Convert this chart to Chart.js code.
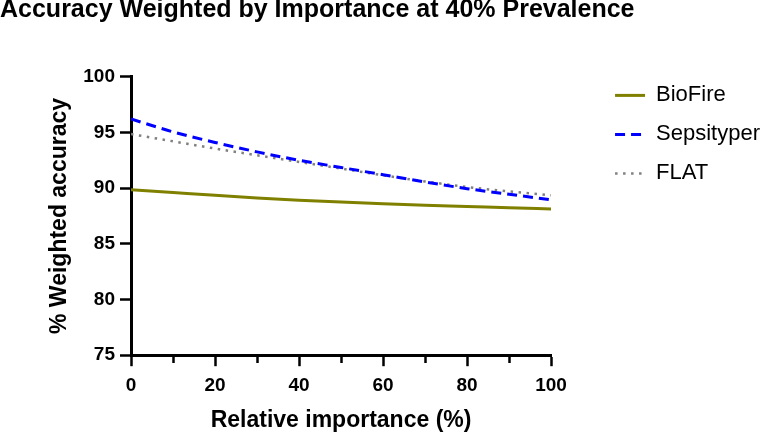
<!DOCTYPE html>
<html>
<head>
<meta charset="utf-8">
<script src="https://cdn.jsdelivr.net/npm/chart.js@4.4.1/dist/chart.umd.min.js"></script>
<style>
  html, body { margin: 0; padding: 0; background: #fff; }
  #wrap { position: relative; width: 770px; height: 432px; }
</style>
</head>
<body>
<div id="wrap"><canvas id="chart"></canvas></div>
<script>
// ── Data ─────────────────────────────────────────────────────────────────────
const importance = [0, 10, 20, 30, 40, 50, 60, 70, 80, 90, 100];
const biofire    = [89.85, 89.6, 89.35, 89.12, 88.92, 88.75, 88.6, 88.46, 88.35, 88.23, 88.13];
const sepsityper = [96.2, 95.05, 94.1, 93.25, 92.5, 91.85, 91.2, 90.55, 89.95, 89.45, 88.95];
const flat       = [94.85, 94.2, 93.55, 92.95, 92.35, 91.75, 91.15, 90.6, 90.1, 89.7, 89.35];

const yTicks = [75, 80, 85, 90, 95, 100];

const FONT = "'Liberation Sans', Arial, Helvetica, sans-serif";
Chart.defaults.font.family = FONT;
Chart.defaults.color = '#000';

const toPoints = (ys) => importance.map((x, i) => ({ x, y: ys[i] }));

// legend entries use the dataset's own dash + width (point style drops them)
function legendLabels(chart) {
  const items = Chart.defaults.plugins.legend.labels.generateLabels(chart);
  items.forEach((it) => {
    const ds = chart.data.datasets[it.datasetIndex];
    it.lineDash  = ds.borderDash || [];
    it.lineWidth = ds.borderWidth;
  });
  return items;
}

new Chart(document.getElementById('chart'), {
  type: 'line',
  data: {
    datasets: [
      {
        label: 'BioFire',
        data: toPoints(biofire),
        borderColor: '#808000',
        backgroundColor: '#808000',
        borderWidth: 3,
        pointRadius: 0,
        cubicInterpolationMode: 'monotone'
      },
      {
        label: 'Sepsityper',
        data: toPoints(sepsityper),
        borderColor: '#0000ff',
        backgroundColor: '#0000ff',
        borderWidth: 3,
        borderDash: [10, 6],
        pointRadius: 0,
        cubicInterpolationMode: 'monotone'
      },
      {
        label: 'FLAT',
        data: toPoints(flat),
        borderColor: '#808080',
        backgroundColor: '#808080',
        borderWidth: 2.5,
        borderDash: [2.5, 5.5],
        pointRadius: 0,
        cubicInterpolationMode: 'monotone'
      }
    ]
  },
  options: {
    responsive: true,
    maintainAspectRatio: false,
    animation: false,
    devicePixelRatio: 1,
    layout: { padding: 0 },
    scales: {
      x: {
        type: 'linear',
        min: 0,
        max: 100,
        ticks: {
          stepSize: 10,
          autoSkip: false,
          maxRotation: 0,
          padding: 8,
          color: '#000',
          font: { size: 19, weight: 'bold' },
          callback: (v) => (v % 20 === 0 ? v : '')
        },
        grid: {
          drawOnChartArea: false,
          tickLength: 11,
          tickWidth: 2.5,
          tickColor: '#000',
          // minor ticks (odd tens) are drawn shorter
          tickBorderDash: (ctx) => (ctx.tick && ctx.tick.value % 20 ? [6, 30] : [])
        },
        border: { color: '#000', width: 3 },
        title: {
          display: true,
          text: 'Relative importance (%)',
          color: '#000',
          font: { size: 23, weight: 'bold', lineHeight: 1 },
          padding: { top: 4, bottom: 0 }
        }
      },
      y: {
        min: 75,
        max: 100,
        afterBuildTicks: (s) => { s.ticks = yTicks.map(v => ({ value: v })); },
        afterFit: (s) => { s.width = 131; },
        ticks: {
          padding: 5,
          color: '#000',
          font: { size: 19, weight: 'bold' }
        },
        grid: {
          drawOnChartArea: false,
          tickLength: 11,
          tickWidth: 2.5,
          tickColor: '#000'
        },
        border: { color: '#000', width: 3 },
        title: {
          display: true,
          text: '% Weighted accuracy',
          color: '#000',
          font: { size: 23, weight: 'bold', lineHeight: 1 },
          padding: { top: 48.5, bottom: 8 }
        }
      },
      // empty axis that only keeps the gap between plot and legend
      gap: {
        position: 'right',
        display: true,
        ticks: { display: false },
        grid: { display: false },
        border: { display: false },
        afterFit: (s) => { s.width = 47; }
      }
    },
    plugins: {
      title: {
        display: true,
        text: 'Accuracy Weighted by Importance at 40% Prevalence',
        align: 'start',
        color: '#000',
        font: { size: 25, weight: 'bold', lineHeight: 0.84 },
        padding: { top: 0, bottom: 55.7 }
      },
      legend: {
        position: 'right',
        align: 'start',
        maxWidth: 250,
        title: {
          display: true,
          text: '',
          font: { size: 12 },
          padding: { top: 53, bottom: 0 }
        },
        labels: {
          usePointStyle: true,
          pointStyle: 'line',
          pointStyleWidth: 30,
          padding: 17,
          color: '#000',
          font: { size: 22 },
          generateLabels: legendLabels
        }
      },
      tooltip: { enabled: false }
    }
  }
});
</script>
</body>
</html>
